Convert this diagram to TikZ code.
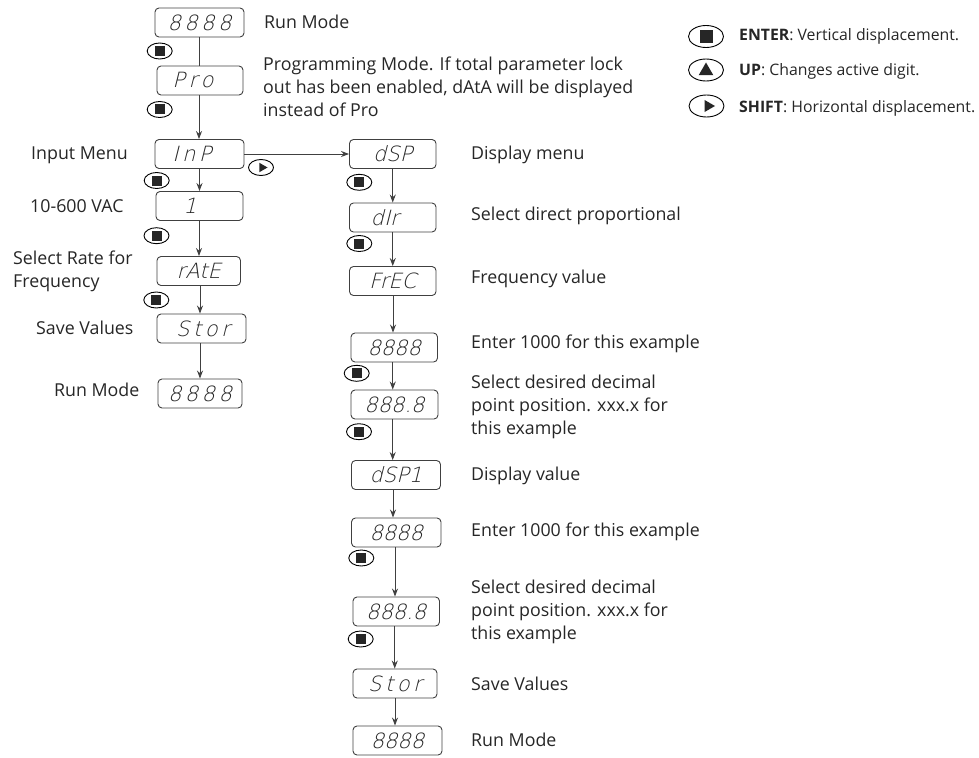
\documentclass[tikz,border=0pt]{standalone}
\usepackage{fontspec}
\setmainfont{Open Sans}
\newfontfamily\dispfont[FakeSlant=0.25]{DejaVu Sans ExtraLight}
\usepackage{tikz}
\usetikzlibrary{shapes.geometric, positioning, arrows.meta, calc}

\tikzset{
  dispbox/.style={draw=black!75, line width=0.9pt, rounded corners=4pt, minimum height=29pt,
    inner sep=0pt, text=black!85, font=\dispfont\fontsize{21}{21}\selectfont},
  flowline/.style={black!75, line width=0.9pt},
  flowarrow/.style={flowline, -{Stealth[length=8pt,width=6pt]}},
  keybtn/.style={draw=black, ellipse, line width=0.9pt, inner sep=0pt, minimum width=25pt, minimum height=16pt},
  bigbtn/.style={keybtn, minimum width=35pt, minimum height=22pt},
  keymark/.style={fill=black!85, inner sep=0pt, minimum size=10pt},
  bigmark/.style={keymark, minimum size=13pt},
  trimark/.style={regular polygon, regular polygon sides=3, fill=black!85, inner sep=0pt, minimum size=#1},
  lbl/.style={anchor=west, inner sep=0pt, align=left, text=black!85,
    font=\fontsize{17.8}{23}\selectfont},
  legendlbl/.style={anchor=west, inner sep=0pt, text=black!85, font=\fontsize{15.8}{17}\selectfont}
}

\begin{document}
\begin{tikzpicture}[x=1pt, y=-1pt]

  \useasboundingbox (0,0) rectangle (979,757);

  % --- Displays, left column ---
  \foreach \name/\cx/\bw/\cy/\tx/\txt in {
    run/199.5/89/22.5/0/8\,8\,8\,8, pro/200/86/80.5/-14/P\,r\,o, inp/199.5/89/154/-15/I\,n\,P,
    one/199.5/87/206/-19/1, rate/198.75/83.5/271/0/rAtE, stor/201.5/89/328.5/3/S\,t\,o\,r,
    runb/200/84/393.5/0/8\,8\,8\,8}{
    \node[dispbox, minimum width=\bw pt] (\name) at (\cx,\cy) {\hspace*{\tx pt}\txt};
  }

  % --- Displays, right column ---
  \foreach \name/\cx/\bw/\cy/\tx/\txt in {
    dsp/392.75/86.5/154/0/dSP, dir/392.75/86.5/217.5/-16/dIr, frec/392.75/86.5/281/0/FrEC,
    val/394.25/86.5/347.5/0/8888, dec/394.5/87/404.5/0/888.8, dspo/396/89/475/0/dSP1,
    valb/396.25/89.5/532.5/0/8888, decb/396.25/86.5/611.5/0/888.8,
    storb/395/84/683.5/0/S\,t\,o\,r, runc/397.5/89/740.5/0/8888}{
    \node[dispbox, minimum width=\bw pt] (\name) at (\cx,\cy) {\hspace*{\tx pt}\txt};
  }

  % --- Connectors ---
  \draw[flowline] (run) -- (run |- pro.north);
  \foreach \a/\b/\s in {
    pro/inp/-1, inp/one/0, one/rate/-0.5, rate/stor/1.25, stor/runb/-1.5,
    dsp/dir/0, dir/frec/0, frec/val/0.25, val/dec/-1.5, dec/dspo/-1.8,
    dspo/valb/-3, valb/decb/-1.25, decb/storb/-1.5, storb/runc/0}{
    \draw[flowarrow] ([xshift=\s pt]\a.south) -- ([xshift=\s pt]\a.south |- \b.north);
  }
  \draw[flowarrow] (inp.east) -- (dsp.west);

  % --- ENTER keys ---
  \foreach \i/\x/\y in {
    a/159.7/51, b/159.7/109.5, c/156.7/180.5, d/156.5/235.7, e/156.3/300,
    f/359.3/182.3, g/359.3/243.5, h/356.7/373.3, i/359/431.7, j/361.3/558, k/360.7/639}{
    \node[keybtn] (key\i) at (\x,\y) {};
    \node[keymark] (mark\i) at (key\i) {};
  }

  % --- SHIFT key ---
  \node[keybtn] (keyshift) at (261,167.5) {};
  \node[trimark=11pt, shape border rotate=-90] (markshift) at (262,167.5) {};

  % --- Legend ---
  \node[bigbtn] (legenter) at (706,36.5) {};
  \node[bigmark] (legentermark) at (legenter) {};
  \node[bigbtn] (legup) at (706,70) {};
  \node[trimark=17pt] (legupmark) at (706,71) {};
  \node[bigbtn] (legshift) at (706.5,106) {};
  \node[trimark=14pt, shape border rotate=-90] (legshiftmark) at (708,106) {};
  \node[legendlbl] (txtenter) at (739,36) {\textbf{ENTER}: Vertical displacement.};
  \node[legendlbl] (txtup) at (739,71.5) {\textbf{UP}: Changes active digit.};
  \node[legendlbl] (txtshift) at (739,108) {\textbf{SHIFT}: Horizontal displacement.};

  % --- Labels, left column ---
  \node[lbl] (lblinp) at (31,155) {Input Menu};
  \node[lbl] (lblone) at (30,206) {10-600 VAC};
  \node[lbl] (lblrate) at (13,271.5) {Select Rate for\\Frequency};
  \node[lbl] (lblstor) at (36,328) {Save Values};
  \node[lbl] (lblrunb) at (54,390) {Run Mode};

  % --- Labels, middle ---
  \node[lbl] (lblrun) at (264,22) {Run Mode};
  \node[lbl] (lblpro) at (263,87) {Programming Mode. If total parameter lock\\out has been enabled, dAtA will be displayed\\instead of Pro};

  % --- Labels, right column ---
  \node[lbl] (lbldsp) at (471,155) {Display menu};
  \node[lbl] (lbldir) at (471,216) {Select direct proportional};
  \node[lbl] (lblfrec) at (471,279) {Frequency value};
  \node[lbl] (lblval) at (471,344) {Enter 1000 for this example};
  \node[lbl] (lbldec) at (471,406.5) {Select desired decimal\\point position. xxx.x for\\this example};
  \node[lbl] (lbldspo) at (471,476) {Display value};
  \node[lbl] (lblvalb) at (471,532) {Enter 1000 for this example};
  \node[lbl] (lbldecb) at (471,611.5) {Select desired decimal\\point position. xxx.x for\\this example};
  \node[lbl] (lblstorb) at (471,684) {Save Values};
  \node[lbl] (lblrunc) at (471,740) {Run Mode};

\end{tikzpicture}
\end{document}
